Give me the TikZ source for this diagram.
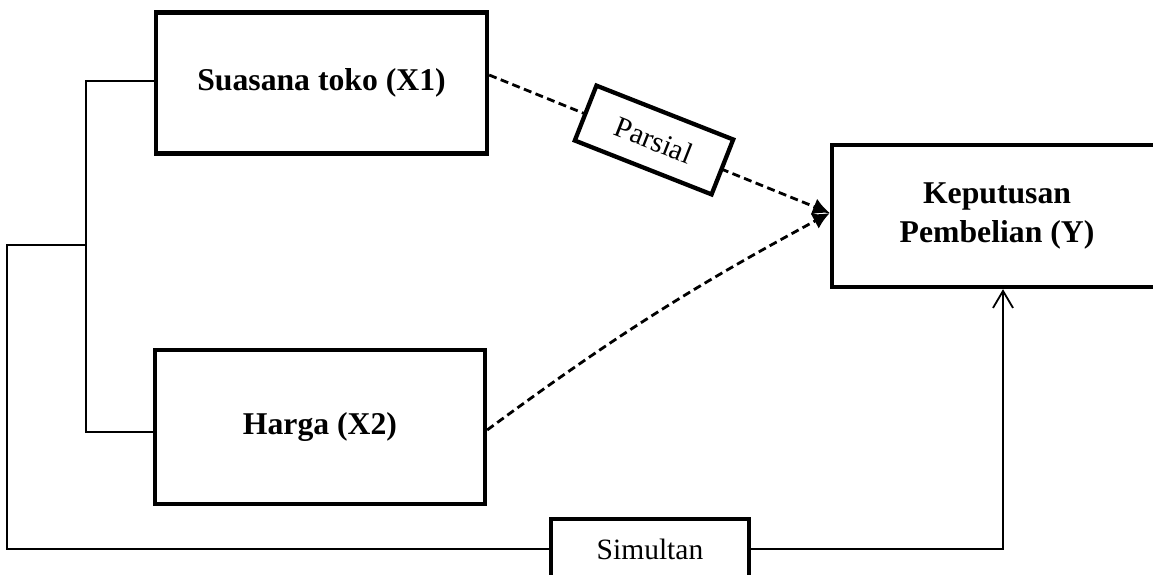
\documentclass[tikz,border=0pt]{standalone}
\usepackage{fontspec}
\setmainfont{Liberation Serif}
\usetikzlibrary{arrows.meta}
\begin{document}
\begin{tikzpicture}[x=1pt,y=-1pt,
  varbox/.style={draw,line width=4.3pt,minimum width=330pt,inner sep=0pt,
     font=\fontsize{31.7}{39}\selectfont\bfseries,align=center},
  labbox/.style={draw,line width=4.3pt,fill=white,inner sep=0pt,
     font=\fontsize{29.5}{34}\selectfont},
  thinline/.style={line width=1.6pt},
  dashline/.style={line width=2.8pt,dash pattern=on 8pt off 4.5pt,
     -{Latex[length=17pt,width=17pt]}}]
\useasboundingbox (0,0) rectangle (1153,574);
\node[varbox,minimum width=331pt,minimum height=141pt] (s) at (321.5,83) {Suasana toko (X1)};
\node[varbox,minimum height=154pt] (h) at (320,427) {Harga (X2)};
\node[varbox,minimum height=142pt] (k) at (997,216) {Keputusan\\Pembelian (Y)};
\node[labbox,minimum width=198pt,minimum height=60pt] (sim) at (650,549) {Simultan};
% dashed connectors
\draw[dashline] ([yshift=8pt]s.east) -- ([yshift=3pt]k.west);
\draw[dashline] ([yshift=-3pt]h.east) to[bend left=4] ([yshift=3pt]k.west);
\node[labbox,minimum width=147pt,minimum height=59pt,rotate=-21.5] (p) at (654,140) {Parsial};
% bracket lines
\coordinate (j1) at (86,81);
\coordinate (j2) at (86,432);
\coordinate (jm) at (86,245);
\coordinate (o1) at (7,245);
\coordinate (o2) at (7,549);
\coordinate (o3) at (1003,549);
\draw[thinline] (j1 -| s.west) -- (j1) -- (j2) -- (j2 -| h.west);
\draw[thinline] (jm) -- (o1) -- (o2) -- (sim.west);
\draw[thinline,-{Straight Barb[length=17pt,width=20pt,line width=1.8pt]}] (sim.east) -- (o3) -- (o3 |- k.south);
\end{tikzpicture}
\end{document}
